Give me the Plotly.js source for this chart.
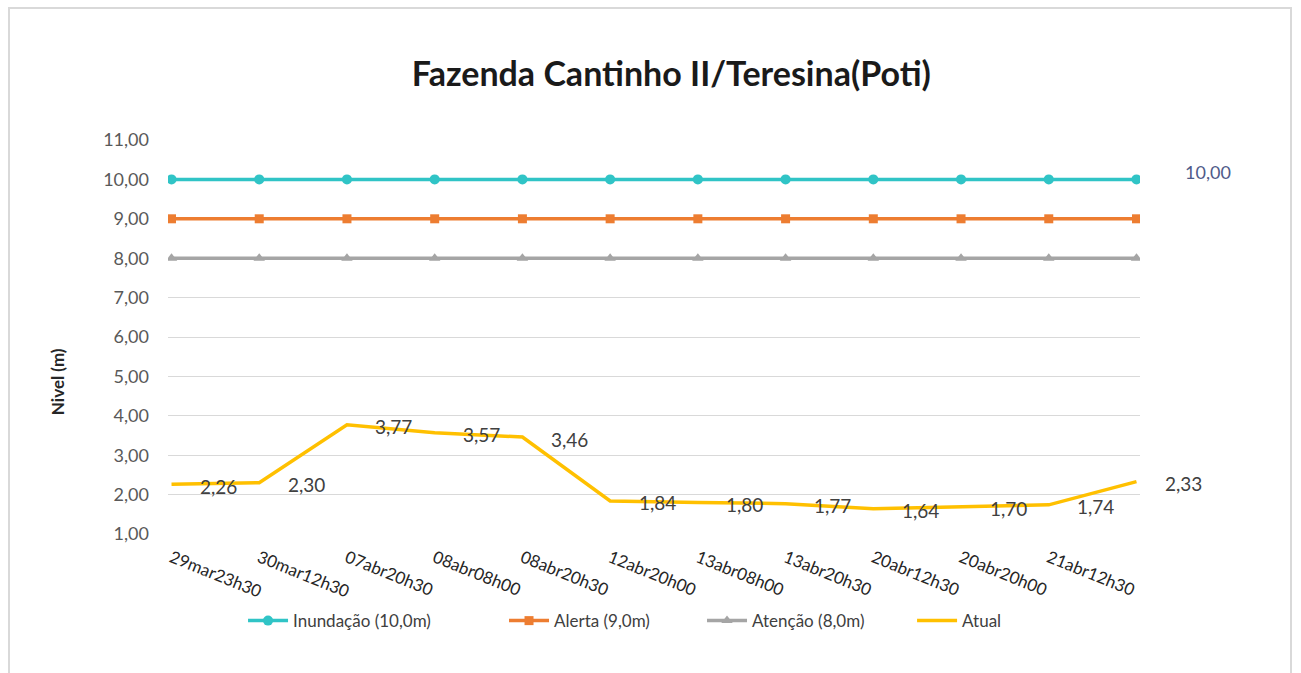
<!DOCTYPE html>
<html>
<head>
<meta charset="utf-8">
<script src="https://cdn.plot.ly/plotly-3.0.1.min.js"></script>
<style>
  html, body { margin: 0; padding: 0; background: #ffffff; }
  #wrap { position: relative; width: 1301px; height: 673px; overflow: hidden; }
  #chart { width: 1301px; height: 673px; }
  #frame { position: absolute; left: 8px; top: 7px; width: 1284px; height: 700px;
           border: 2px solid #d9d9d9; box-sizing: border-box; pointer-events: none; }
</style>
</head>
<body>
<div id="wrap">
  <div id="chart"></div>
  <div id="frame"></div>
</div>
<script>
// ---- data ----
const tickLabels = ["29mar23h30", "30mar12h30", "07abr20h30", "08abr08h00", "08abr20h30",
                    "12abr20h00", "13abr08h00", "13abr20h30", "20abr12h30", "20abr20h00",
                    "21abr12h30", ""];
const inundacao = [10, 10, 10, 10, 10, 10, 10, 10, 10, 10, 10, 10];
const alerta    = [9, 9, 9, 9, 9, 9, 9, 9, 9, 9, 9, 9];
const atencao   = [8, 8, 8, 8, 8, 8, 8, 8, 8, 8, 8, 8];
const atual     = [2.26, 2.30, 3.77, 3.57, 3.46, 1.84, 1.80, 1.77, 1.64, 1.70, 1.74, 2.33];
const seriesNames = ["Inundação (10,0m)", "Alerta (9,0m)", "Atenção (8,0m)", "Atual"];
const yTicks = [1, 2, 3, 4, 5, 6, 7, 8, 9, 10, 11];
const yTitle = "Nivel (m)";

const xIdx = tickLabels.map((_, i) => i);
const fmt = v => v.toFixed(2).replace('.', ',');
const FONT = 'Lato, "Open Sans", sans-serif';

const traces = [
  { x: xIdx, y: inundacao, name: seriesNames[0], type: 'scatter', mode: 'lines+markers', legend: 'legend',
    line: { color: '#30C4C6', width: 3.5 }, marker: { symbol: 'circle', size: 10, color: '#30C4C6' } },
  { x: xIdx, y: alerta, name: seriesNames[1], type: 'scatter', mode: 'lines+markers', legend: 'legend2',
    line: { color: '#ED7D31', width: 3.5 }, marker: { symbol: 'square', size: 9, color: '#ED7D31' } },
  { x: xIdx, y: atencao, name: seriesNames[2], type: 'scatter', mode: 'lines+markers', legend: 'legend3',
    line: { color: '#A5A5A5', width: 3.5 }, marker: { symbol: 'triangle-up', size: 10, color: '#A5A5A5' } },
  { x: xIdx, y: atual, name: seriesNames[3], type: 'scatter', mode: 'lines', legend: 'legend4',
    line: { color: '#FFC000', width: 3.5 } }
];

const annotations = atual.map((v, i) => ({
  x: i, y: v, xref: 'x', yref: 'y', text: fmt(v), showarrow: false,
  xanchor: 'center', yanchor: 'middle', xshift: 47, yshift: -2,
  font: { family: FONT, size: 19, color: '#404040' }
}));
const lastI = inundacao.length - 1;
annotations.push({
  x: lastI, y: inundacao[lastI], xref: 'x', yref: 'y', text: fmt(inundacao[lastI]), showarrow: false,
  xanchor: 'center', yanchor: 'middle', xshift: 72, yshift: 7,
  font: { family: FONT, size: 18, color: '#4f5b8a' }
});
annotations.push({
  x: -0.1142, y: 0.388, xref: 'paper', yref: 'paper', text: '<b>' + yTitle + '</b>', showarrow: false,
  textangle: -90, xanchor: 'center', yanchor: 'middle',
  font: { family: FONT, size: 17, color: '#262626' }
});

const legendBase = {
  orientation: 'h', xanchor: 'left', y: -0.221, yanchor: 'middle',
  font: { family: FONT, size: 17, color: '#404040' }, itemwidth: 40, bgcolor: 'rgba(0,0,0,0)'
};

const layout = {
  width: 1301, height: 673,
  margin: { l: 168, r: 161, t: 140, b: 139 },
  paper_bgcolor: '#ffffff', plot_bgcolor: '#ffffff',
  separators: ',.',
  font: { family: FONT, color: '#404040' },
  title: { text: '<b>Fazenda Cantinho II/Teresina(Poti)</b>', x: 0.516, xref: 'container', xanchor: 'center',
           y: 0.89, yref: 'container', yanchor: 'middle',
           font: { family: FONT, size: 34, color: '#1a1a1a' } },
  xaxis: {
    range: [-0.04, 11.04], tickmode: 'array', tickvals: xIdx, ticktext: tickLabels,
    tickangle: 22, showgrid: false, zeroline: false, showline: false, ticks: '',
    ticklabelstandoff: 10,
    tickfont: { family: FONT, size: 17, color: '#262626' }, fixedrange: true
  },
  yaxis: {
    range: [1, 11], tickmode: 'array', tickvals: yTicks, ticktext: yTicks.map(fmt),
    showgrid: true, gridcolor: '#d9d9d9', gridwidth: 1, zeroline: false, showline: false,
    ticks: '', ticklabelstandoff: 18,
    tickfont: { family: FONT, size: 18, color: '#595959' },
    fixedrange: true
  },
  legend:  Object.assign({}, legendBase, { x: 0.0772 }),
  legend2: Object.assign({}, legendBase, { x: 0.3457 }),
  legend3: Object.assign({}, legendBase, { x: 0.5494 }),
  legend4: Object.assign({}, legendBase, { x: 0.7655 }),
  showlegend: true,
  annotations: annotations
};

Plotly.newPlot('chart', traces, layout, { displayModeBar: false, staticPlot: true });
</script>
</body>
</html>
